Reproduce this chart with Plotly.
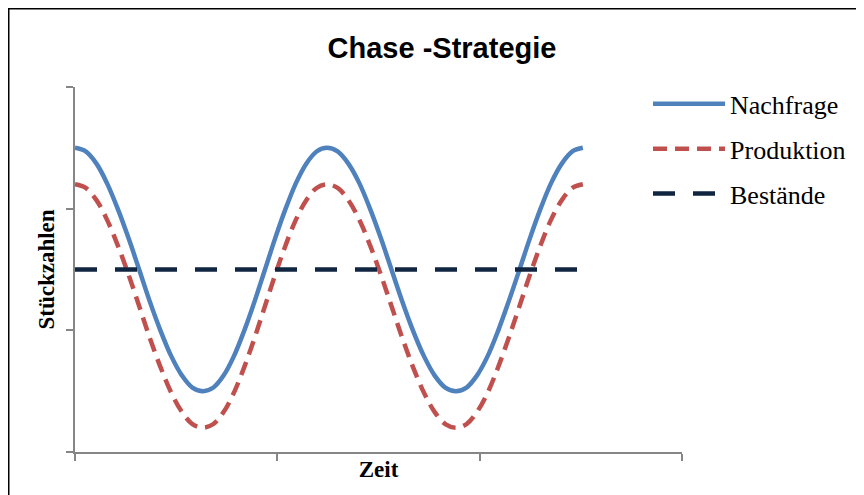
import plotly.graph_objects as go

# Data (x in axis units 0..3, y in axis units 0..3)
zeit = [0, 0.053, 0.106, 0.158, 0.211, 0.264, 0.317, 0.369, 0.422, 0.475, 0.528, 0.580, 0.633,
        0.684, 0.735, 0.786, 0.837, 0.888, 0.939, 0.990, 1.041, 1.092, 1.143, 1.194, 1.245,
        1.298, 1.351, 1.405, 1.458, 1.511, 1.564, 1.617, 1.670, 1.724, 1.777, 1.830, 1.883,
        1.935, 1.987, 2.040, 2.092, 2.144, 2.197, 2.249, 2.301, 2.353, 2.406, 2.458, 2.51]
nachfrage = [2.5, 2.47, 2.37, 2.21, 2.0, 1.76, 1.5, 1.24, 1.0, 0.79, 0.63, 0.53, 0.5,
             0.53, 0.63, 0.79, 1.0, 1.24, 1.5, 1.76, 2.0, 2.21, 2.37, 2.47, 2.5,
             2.47, 2.37, 2.21, 2.0, 1.76, 1.5, 1.24, 1.0, 0.79, 0.63, 0.53, 0.5,
             0.53, 0.63, 0.79, 1.0, 1.24, 1.5, 1.76, 2.0, 2.21, 2.37, 2.47, 2.5]
produktion = [2.2, 2.17, 2.07, 1.91, 1.7, 1.46, 1.2, 0.94, 0.7, 0.49, 0.33, 0.23, 0.2,
              0.23, 0.33, 0.49, 0.7, 0.94, 1.2, 1.46, 1.7, 1.91, 2.07, 2.17, 2.2,
              2.17, 2.07, 1.91, 1.7, 1.46, 1.2, 0.94, 0.7, 0.49, 0.33, 0.23, 0.2,
              0.23, 0.33, 0.49, 0.7, 0.94, 1.2, 1.46, 1.7, 1.91, 2.07, 2.17, 2.2]
bestand_x = [0, 2.51]
bestaende = [1.5, 1.5]
ticks = [0, 1, 2, 3]

W, H = 856, 487
ML, MR, MT, MB = 67, 182, 79, 43
PW, PH = W - ML - MR, H - MT - MB

fig = go.Figure()
fig.add_trace(go.Scatter(x=zeit, y=nachfrage, name="Nachfrage", mode="lines", legendgroup="a",
                         line=dict(color="#4F81BD", width=4.5, shape="spline")))
fig.add_trace(go.Scatter(x=zeit, y=produktion, name="Produktion", mode="lines", legendgroup="b",
                         line=dict(color="#C0504D", width=4.5, shape="spline", dash="14px,8px")))
fig.add_trace(go.Scatter(x=bestand_x, y=bestaende, name="Bestände", mode="lines", legendgroup="c",
                         line=dict(color="#10253F", width=4.5, dash="22px,18px")))

axis_common = dict(showgrid=False, zeroline=False, showline=True, linecolor="#868686",
                   linewidth=1.5, ticks="outside", tickcolor="#868686", ticklen=7,
                   tickwidth=1.5, showticklabels=False, range=[0, 3],
                   tickmode="array", tickvals=ticks)

fig.update_layout(
    width=W, height=H,
    margin=dict(l=ML, r=MR, t=MT, b=MB, autoexpand=False),
    paper_bgcolor="white", plot_bgcolor="white",
    title=dict(text="<b>Chase -Strategie</b>", x=0.507, xanchor="center",
               y=0.918, yanchor="middle",
               font=dict(family="Liberation Sans, Arial", size=29, color="black")),
    xaxis=dict(**axis_common,
               title=dict(text="<b>Zeit</b>", standoff=1,
                          font=dict(family="Liberation Serif, Times New Roman", size=23, color="black"))),
    yaxis=dict(**axis_common,
               title=dict(text="<b>Stückzahlen</b>", standoff=5,
                          font=dict(family="Liberation Serif, Times New Roman", size=23, color="black"))),
    legend=dict(x=0.944, xanchor="left", y=1.018, yanchor="top",
                font=dict(family="Liberation Serif, Times New Roman", size=26, color="black"),
                itemwidth=72, tracegroupgap=8, bgcolor="rgba(0,0,0,0)"),
    shapes=[dict(type="rect", xref="paper", yref="paper",
                 x0=(-ML + 0.75) / PW, x1=(W - ML + 20) / PW,
                 y0=(-MB - 20) / PH, y1=1 + (MT - 0.75) / PH,
                 line=dict(color="black", width=1.5), fillcolor="rgba(0,0,0,0)", layer="below")],
)

fig.write_html("out.html")
